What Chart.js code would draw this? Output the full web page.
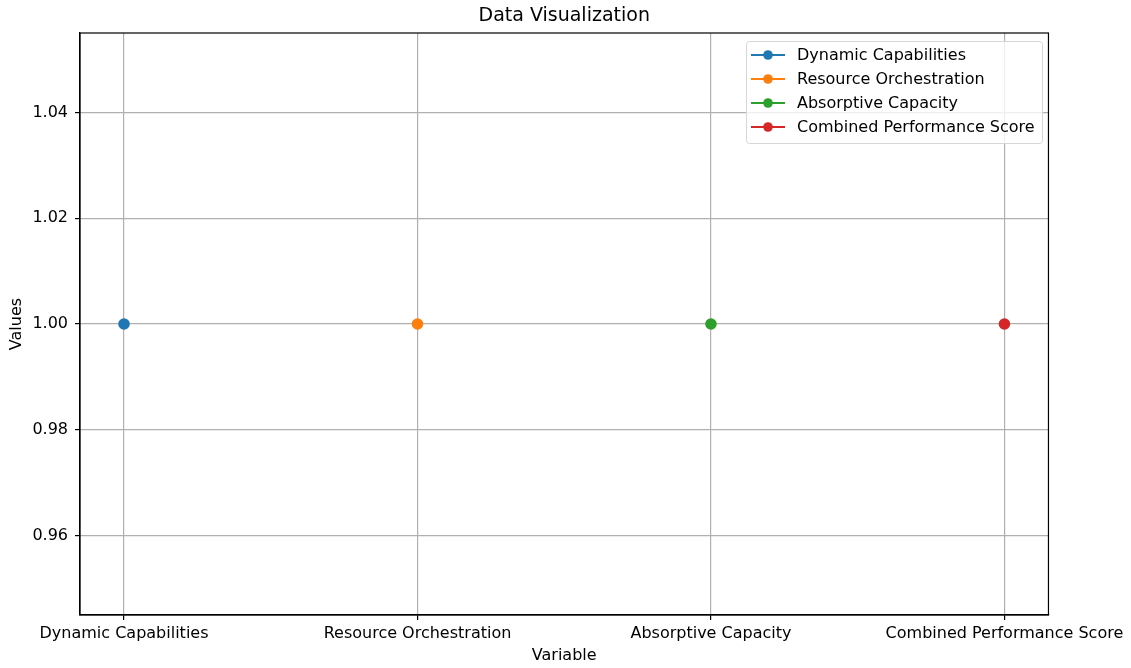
<!DOCTYPE html>
<html>
<head>
<meta charset="utf-8">
<script src="https://cdn.jsdelivr.net/npm/chart.js@4/dist/chart.umd.min.js"></script>
<style>
html,body{margin:0;padding:0;background:#fff;}
#wrap{width:1131px;height:668px;}
</style>
</head>
<body>
<div id="wrap"><canvas id="c" width="1131" height="668"></canvas></div>
<script>
const categories = ["Dynamic Capabilities", "Resource Orchestration", "Absorptive Capacity", "Combined Performance Score"];
const seriesNames = ["Dynamic Capabilities", "Resource Orchestration", "Absorptive Capacity", "Combined Performance Score"];
const seriesValues = [1.0, 1.0, 1.0, 1.0];
const seriesColors = ["#1f77b4", "#ff7f0e", "#2ca02c", "#d62728"];
const yTicks = [0.96, 0.98, 1.00, 1.02, 1.04];
const chartTitle = "Data Visualization";
const xTitle = "Variable";
const yTitle = "Values";

const FONT = "'DejaVu Sans', sans-serif";

const datasets = seriesNames.map((name, i) => ({
  label: name,
  data: [{x: categories.indexOf(name) >= 0 ? categories.indexOf(name) : i, y: seriesValues[i]}],
  borderColor: seriesColors[i],
  backgroundColor: seriesColors[i],
  pointRadius: 4.8,
  pointHoverRadius: 4.8,
  borderWidth: 2,
  showLine: true
}));

const overlay = {
  id: 'overlay',
  afterDraw(chart) {
    const ctx = chart.ctx;
    const a = chart.chartArea;
    ctx.save();
    // spines
    ctx.strokeStyle = '#000';
    ctx.lineWidth = 1.2;
    ctx.strokeRect(a.left, a.top, a.right - a.left, a.bottom - a.top);
    // title
    ctx.fillStyle = '#000';
    ctx.textAlign = 'center';
    ctx.textBaseline = 'middle';
    ctx.font = "19px " + FONT;
    ctx.fillText(chartTitle, (a.left + a.right) / 2, 16);
    // axis titles
    ctx.font = "16px " + FONT;
    ctx.fillText(xTitle, (a.left + a.right) / 2, 656);
    ctx.save();
    ctx.translate(17, (a.top + a.bottom) / 2);
    ctx.rotate(-Math.PI / 2);
    ctx.fillText(yTitle, 0, 0);
    ctx.restore();
    // legend
    const lx = 746, ly = 41, lw = 296, lh = 102;
    ctx.beginPath();
    if (ctx.roundRect) ctx.roundRect(lx + 0.5, ly + 0.5, lw, lh, 3); else ctx.rect(lx + 0.5, ly + 0.5, lw, lh);
    ctx.fillStyle = 'rgba(255,255,255,0.8)';
    ctx.fill();
    ctx.strokeStyle = '#d6d6d6';
    ctx.lineWidth = 1;
    ctx.stroke();
    ctx.font = "16px " + FONT;
    ctx.textAlign = 'left';
    seriesNames.forEach((name, i) => {
      const y = 55 + i * 24;
      ctx.strokeStyle = seriesColors[i];
      ctx.lineWidth = 2;
      ctx.beginPath();
      ctx.moveTo(751, y);
      ctx.lineTo(785, y);
      ctx.stroke();
      ctx.fillStyle = seriesColors[i];
      ctx.beginPath();
      ctx.arc(768, y, 4.8, 0, Math.PI * 2);
      ctx.fill();
      ctx.fillStyle = '#000';
      ctx.fillText(name, 797, y + 0.5);
    });
    ctx.restore();
  }
};

new Chart(document.getElementById('c'), {
  type: 'scatter',
  data: { datasets },
  options: {
    responsive: false,
    animation: false,
    events: [],
    layout: { padding: { left: 0, top: 33, right: 82, bottom: 0 } },
    plugins: { legend: { display: false }, title: { display: false }, tooltip: { enabled: false } },
    scales: {
      x: {
        type: 'linear',
        min: -0.15,
        max: 3.15,
        afterBuildTicks(scale) { scale.ticks = categories.map((c, i) => ({ value: i })); },
        afterFit(scale) { scale.height = 53; },
        ticks: {
          autoSkip: false,
          maxRotation: 0,
          padding: 4,
          color: '#000',
          font: { family: FONT, size: 16 },
          callback: (v) => categories[v]
        },
        grid: { color: '#b0b0b0', lineWidth: 1.2, tickColor: '#000', tickLength: 5, drawTicks: true },
        border: { display: true, color: '#000', width: 1.2 }
      },
      y: {
        type: 'linear',
        min: 0.945,
        max: 1.055,
        afterBuildTicks(scale) { scale.ticks = yTicks.map(v => ({ value: v })); },
        afterFit(scale) { scale.width = 80; },
        ticks: {
          padding: 7,
          color: '#000',
          font: { family: FONT, size: 16 },
          callback: (v) => Number(v).toFixed(2)
        },
        grid: { color: '#b0b0b0', lineWidth: 1.2, tickColor: '#000', tickLength: 5, drawTicks: true },
        border: { display: true, color: '#000', width: 1.2 }
      }
    }
  },
  plugins: [overlay]
});
</script>
</body>
</html>
